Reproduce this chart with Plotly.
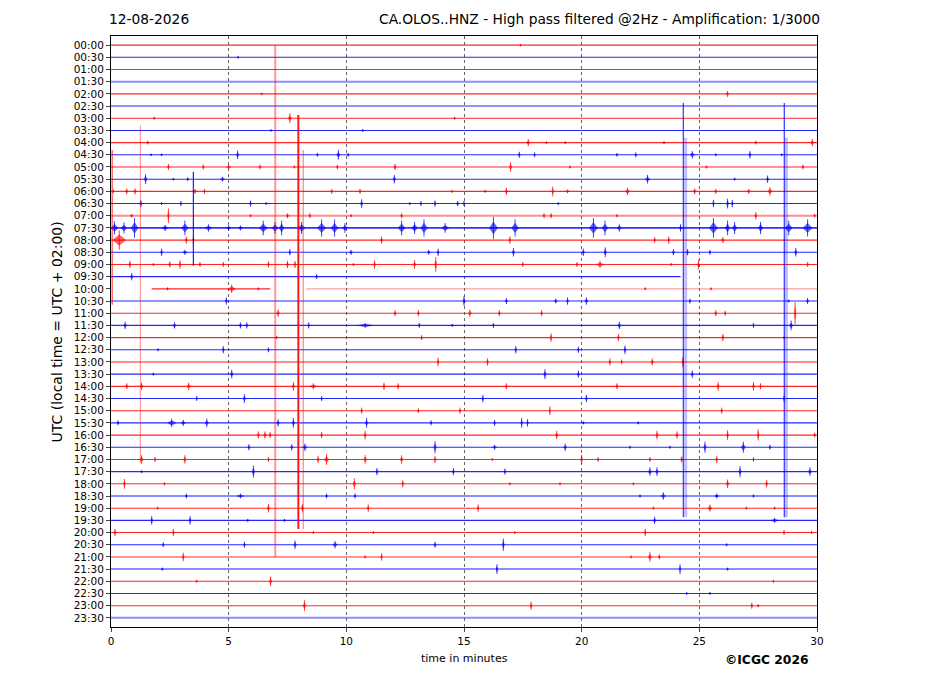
import plotly.graph_objects as go

# helicorder rows: one line per half hour
ROW_LABELS = ["00:00", "00:30", "01:00", "01:30", "02:00", "02:30", "03:00", "03:30",
              "04:00", "04:30", "05:00", "05:30", "06:00", "06:30", "07:00", "07:30",
              "08:00", "08:30", "09:00", "09:30", "10:00", "10:30", "11:00", "11:30",
              "12:00", "12:30", "13:00", "13:30", "14:00", "14:30", "15:00", "15:30",
              "16:00", "16:30", "17:00", "17:30", "18:00", "18:30", "19:00", "19:30",
              "20:00", "20:30", "21:00", "21:30", "22:00", "22:30", "23:00", "23:30"]
X_TICKS = [0, 5, 10, 15, 20, 25, 30]

# recorded stretches of each row (minutes); rows not listed run 0-30
TRACE_SPANS = {19: [(0, 24.2)], 20: [(1.73, 6.76), (8.3, 30)]}

# bursts: (row, minute, half amplitude in rows, duration in minutes)
BURSTS = [
    (0, 17.4, 0.1, 0.1), (1, 5.4, 0.1, 0.1), (4, 6.4, 0.1, 0.1), (4, 26.2, 0.25, 0.12),
    (6, 1.84, 0.12, 0.1), (6, 7.6, 0.4, 0.15), (6, 14.6, 0.12, 0.1),
    (7, 6.8, 0.1, 0.1), (7, 10.7, 0.12, 0.1),
    (8, 1.56, 0.15, 0.12), (8, 17.73, 0.3, 0.15), (8, 18.5, 0.12, 0.1), (8, 19.3, 0.12, 0.1),
    (8, 23.5, 0.12, 0.15), (8, 27.4, 0.15, 0.1), (8, 29.8, 0.3, 0.15),
    (9, 1.7, 0.1, 0.1), (9, 2.15, 0.1, 0.1), (9, 5.38, 0.35, 0.12), (9, 8.77, 0.15, 0.1),
    (9, 9.66, 0.4, 0.15), (9, 10.08, 0.15, 0.1), (9, 17.35, 0.25, 0.1), (9, 18.0, 0.2, 0.1),
    (9, 21.5, 0.15, 0.1), (9, 22.3, 0.2, 0.1), (9, 24.7, 0.3, 0.2), (9, 25.7, 0.12, 0.1),
    (9, 27.15, 0.3, 0.12), (9, 28.5, 0.1, 0.1),
    (10, 2.44, 0.25, 0.1), (10, 3.92, 0.2, 0.1), (10, 5.0, 0.2, 0.2), (10, 6.33, 0.2, 0.12),
    (10, 7.79, 0.12, 0.1), (10, 9.62, 0.2, 0.1), (10, 12.07, 0.25, 0.12), (10, 16.98, 0.4, 0.12),
    (10, 19.5, 0.12, 0.1), (10, 25.3, 0.12, 0.1), (10, 29.4, 0.2, 0.1),
    (11, 1.47, 0.4, 0.15), (11, 2.65, 0.1, 0.1), (11, 3.26, 0.15, 0.1), (11, 4.74, 0.2, 0.2),
    (11, 12.04, 0.35, 0.12), (11, 22.8, 0.35, 0.2), (11, 26.5, 0.12, 0.1), (11, 27.9, 0.3, 0.12),
    (12, 0.1, 0.15, 0.1), (12, 0.67, 0.25, 0.12), (12, 1.02, 0.25, 0.12), (12, 3.57, 0.2, 0.15),
    (12, 3.97, 0.2, 0.1), (12, 9.38, 0.2, 0.12), (12, 10.58, 0.2, 0.12), (12, 14.5, 0.12, 0.1),
    (12, 15.9, 0.12, 0.15), (12, 16.8, 0.3, 0.12), (12, 18.77, 0.4, 0.1), (12, 19.4, 0.15, 0.2),
    (12, 21.95, 0.3, 0.2), (12, 24.8, 0.25, 0.15), (12, 25.7, 0.2, 0.12), (12, 27.1, 0.2, 0.15),
    (12, 28.0, 0.35, 0.2),
    (13, 1.27, 0.3, 0.12), (13, 2.15, 0.12, 0.1), (13, 2.97, 0.2, 0.1), (13, 5.93, 0.25, 0.1),
    (13, 6.59, 0.12, 0.1), (13, 10.65, 0.35, 0.12), (13, 12.7, 0.12, 0.1), (13, 13.17, 0.2, 0.1),
    (13, 13.77, 0.25, 0.1), (13, 14.73, 0.2, 0.15), (13, 15.0, 0.2, 0.1), (13, 19.0, 0.12, 0.1),
    (13, 25.6, 0.3, 0.1), (13, 26.2, 0.4, 0.1), (13, 26.4, 0.3, 0.1),
    (14, 0.88, 0.15, 0.15), (14, 2.44, 0.6, 0.08), (14, 5.93, 0.12, 0.1), (14, 7.5, 0.2, 0.15),
    (14, 8.45, 0.2, 0.12), (14, 10.2, 0.12, 0.1), (14, 12.35, 0.2, 0.12), (14, 18.4, 0.2, 0.12),
    (14, 18.7, 0.2, 0.12), (14, 21.5, 0.12, 0.1), (14, 27.4, 0.3, 0.1), (14, 29.9, 0.15, 0.1),
    (15, 0.15, 0.55, 0.3), (15, 0.55, 0.45, 0.25), (15, 1.0, 0.8, 0.3), (15, 2.3, 0.25, 0.3),
    (15, 3.14, 0.6, 0.3), (15, 4.14, 0.3, 0.3), (15, 5.0, 0.2, 0.2), (15, 5.5, 0.2, 0.2),
    (15, 6.47, 0.6, 0.35), (15, 6.97, 0.5, 0.25), (15, 7.25, 0.6, 0.2), (15, 8.1, 0.5, 0.3),
    (15, 8.95, 0.7, 0.35), (15, 9.5, 0.7, 0.3), (15, 9.94, 0.4, 0.2), (15, 12.35, 0.6, 0.3),
    (15, 12.9, 0.5, 0.25), (15, 13.3, 0.7, 0.3), (15, 14.2, 0.4, 0.3), (15, 16.25, 0.9, 0.35),
    (15, 17.17, 0.7, 0.3), (15, 20.5, 0.8, 0.35), (15, 20.99, 0.6, 0.25), (15, 21.6, 0.3, 0.2),
    (15, 24.2, 0.3, 0.1), (15, 25.6, 0.8, 0.35), (15, 26.2, 0.6, 0.2), (15, 26.5, 0.5, 0.2),
    (15, 27.6, 0.5, 0.2), (15, 28.8, 0.6, 0.3), (15, 29.6, 0.7, 0.4),
    (16, 0.35, 0.8, 0.55), (16, 3.2, 0.3, 0.12), (16, 3.5, 0.3, 0.12), (16, 11.5, 0.3, 0.12),
    (16, 16.95, 0.3, 0.1), (16, 23.1, 0.25, 0.1), (16, 23.7, 0.3, 0.1), (16, 26.0, 0.25, 0.15),
    (17, 2.15, 0.3, 0.12), (17, 3.14, 0.2, 0.2), (17, 7.6, 0.25, 0.1), (17, 10.2, 0.2, 0.15),
    (17, 13.5, 0.2, 0.15), (17, 13.9, 0.3, 0.1), (17, 17.1, 0.35, 0.12), (17, 20.07, 0.3, 0.12),
    (17, 21.0, 0.4, 0.12), (17, 23.9, 0.25, 0.12), (17, 24.5, 0.25, 0.1), (17, 25.45, 0.2, 0.1),
    (17, 29.1, 0.35, 0.12),
    (18, 0.8, 0.3, 0.12), (18, 1.8, 0.12, 0.1), (18, 2.5, 0.25, 0.15), (18, 2.93, 0.35, 0.1),
    (18, 3.78, 0.2, 0.12), (18, 4.77, 0.2, 0.1), (18, 6.69, 0.25, 0.1), (18, 7.5, 0.3, 0.12),
    (18, 7.82, 0.3, 0.1), (18, 10.3, 0.12, 0.1), (18, 11.2, 0.35, 0.1), (18, 12.9, 0.35, 0.12),
    (18, 13.8, 0.6, 0.1), (18, 17.5, 0.2, 0.1), (18, 19.8, 0.2, 0.1), (18, 20.78, 0.3, 0.3),
    (18, 23.8, 0.12, 0.1), (18, 24.96, 0.4, 0.08), (18, 29.6, 0.2, 0.12),
    (19, 0.88, 0.3, 0.12), (19, 8.74, 0.2, 0.1),
    (20, 2.4, 0.12, 0.1), (20, 5.13, 0.35, 0.3), (20, 6.26, 0.12, 0.1), (20, 22.7, 0.12, 0.1),
    (20, 25.5, 0.12, 0.1),
    (21, 4.9, 0.3, 0.1), (21, 15.0, 0.4, 0.1), (21, 16.8, 0.25, 0.12), (21, 18.9, 0.2, 0.15),
    (21, 19.4, 0.3, 0.1), (21, 20.2, 0.3, 0.15), (21, 24.6, 0.2, 0.1), (21, 28.8, 0.12, 0.1),
    (21, 29.6, 0.25, 0.12),
    (22, 7.1, 0.3, 0.15), (22, 12.07, 0.25, 0.1), (22, 13.06, 0.25, 0.1), (22, 15.25, 0.3, 0.15),
    (22, 16.5, 0.25, 0.1), (22, 18.3, 0.25, 0.1), (22, 25.7, 0.25, 0.15), (22, 26.1, 0.2, 0.1),
    (22, 29.07, 0.9, 0.08),
    (23, 0.6, 0.3, 0.15), (23, 2.7, 0.25, 0.15), (23, 5.5, 0.25, 0.12), (23, 5.77, 0.25, 0.12),
    (23, 8.4, 0.25, 0.1), (23, 10.8, 0.2, 0.6), (23, 13.1, 0.2, 0.12), (23, 14.5, 0.12, 0.1),
    (23, 16.25, 0.2, 0.1), (23, 21.6, 0.3, 0.15), (23, 27.3, 0.2, 0.1), (23, 28.9, 0.4, 0.15),
    (24, 7.04, 0.12, 0.1), (24, 13.2, 0.2, 0.1), (24, 18.7, 0.35, 0.1), (24, 21.56, 0.3, 0.1),
    (24, 26.0, 0.3, 0.1), (24, 28.6, 0.12, 0.1),
    (25, 2.0, 0.12, 0.1), (25, 4.77, 0.3, 0.1), (25, 6.69, 0.2, 0.1), (25, 17.2, 0.3, 0.1),
    (25, 19.86, 0.25, 0.1), (25, 21.84, 0.35, 0.1),
    (26, 13.9, 0.35, 0.08), (26, 16.0, 0.3, 0.1), (26, 21.2, 0.3, 0.1), (26, 21.7, 0.2, 0.08),
    (26, 23.0, 0.3, 0.15), (26, 24.3, 0.4, 0.1),
    (27, 1.8, 0.12, 0.1), (27, 5.13, 0.35, 0.12), (27, 18.44, 0.4, 0.12), (27, 19.86, 0.3, 0.1),
    (27, 24.7, 0.3, 0.12),
    (28, 0.67, 0.25, 0.12), (28, 1.3, 0.3, 0.15), (28, 3.3, 0.3, 0.15), (28, 7.75, 0.35, 0.1),
    (28, 8.6, 0.25, 0.3), (28, 11.6, 0.3, 0.1), (28, 12.2, 0.25, 0.1), (28, 16.8, 0.25, 0.1),
    (28, 21.5, 0.25, 0.1), (28, 25.8, 0.35, 0.1), (28, 27.3, 0.35, 0.1), (28, 27.6, 0.25, 0.1),
    (29, 3.64, 0.2, 0.12), (29, 5.67, 0.35, 0.12), (29, 8.95, 0.2, 0.1), (29, 15.8, 0.3, 0.1),
    (29, 20.2, 0.3, 0.1), (29, 28.6, 0.25, 0.1),
    (30, 10.65, 0.25, 0.1), (30, 13.06, 0.2, 0.1), (30, 14.83, 0.25, 0.1), (30, 18.65, 0.35, 0.08),
    (30, 25.95, 0.25, 0.1),
    (31, 0.3, 0.2, 0.1), (31, 2.58, 0.35, 0.35), (31, 3.07, 0.25, 0.2), (31, 4.07, 0.35, 0.15),
    (31, 7.1, 0.3, 0.12), (31, 7.75, 0.4, 0.12), (31, 10.86, 0.4, 0.12), (31, 13.6, 0.2, 0.1),
    (31, 16.3, 0.25, 0.1), (31, 17.45, 0.4, 0.08), (31, 17.7, 0.3, 0.08), (31, 20.07, 0.12, 0.1),
    (31, 22.4, 0.12, 0.1),
    (32, 6.26, 0.3, 0.1), (32, 6.54, 0.3, 0.12), (32, 6.76, 0.25, 0.1), (32, 8.95, 0.25, 0.1),
    (32, 10.8, 0.35, 0.1), (32, 18.94, 0.35, 0.12), (32, 23.2, 0.35, 0.12), (32, 24.05, 0.3, 0.1),
    (32, 26.2, 0.4, 0.1), (32, 27.5, 0.45, 0.08), (32, 29.9, 0.2, 0.1),
    (33, 5.86, 0.25, 0.1), (33, 7.68, 0.25, 0.12), (33, 8.24, 0.3, 0.2), (33, 13.77, 0.5, 0.12),
    (33, 16.3, 0.2, 0.2), (33, 19.3, 0.3, 0.15), (33, 22.05, 0.12, 0.1), (33, 23.75, 0.12, 0.1),
    (33, 25.24, 0.45, 0.12), (33, 26.87, 0.45, 0.2), (33, 28.0, 0.2, 0.1),
    (34, 1.3, 0.35, 0.15), (34, 1.87, 0.2, 0.1), (34, 3.14, 0.35, 0.12), (34, 6.69, 0.2, 0.1),
    (34, 8.8, 0.3, 0.12), (34, 9.16, 0.45, 0.2), (34, 10.8, 0.35, 0.15), (34, 12.35, 0.35, 0.15),
    (34, 13.77, 0.3, 0.1), (34, 16.2, 0.12, 0.1), (34, 20.0, 0.4, 0.1), (34, 20.7, 0.2, 0.1),
    (34, 22.9, 0.2, 0.12), (34, 24.25, 0.25, 0.15), (34, 25.74, 0.3, 0.1), (34, 27.3, 0.2, 0.1),
    (35, 1.3, 0.12, 0.1), (35, 6.05, 0.5, 0.12), (35, 11.3, 0.3, 0.1), (35, 14.55, 0.3, 0.1),
    (35, 16.74, 0.25, 0.1), (35, 22.9, 0.35, 0.15), (35, 23.2, 0.35, 0.12), (35, 26.73, 0.45, 0.1),
    (35, 29.7, 0.35, 0.15),
    (36, 0.57, 0.4, 0.1), (36, 2.27, 0.12, 0.1), (36, 10.34, 0.45, 0.12), (36, 12.4, 0.3, 0.1),
    (36, 16.95, 0.12, 0.1), (36, 19.08, 0.12, 0.1), (36, 22.2, 0.12, 0.1), (36, 26.2, 0.35, 0.15),
    (36, 27.86, 0.3, 0.12),
    (37, 3.2, 0.2, 0.1), (37, 5.5, 0.2, 0.3), (37, 9.16, 0.2, 0.1), (37, 10.37, 0.2, 0.1),
    (37, 22.48, 0.12, 0.1), (37, 23.47, 0.3, 0.2), (37, 25.74, 0.2, 0.2), (37, 27.3, 0.12, 0.1),
    (38, 1.98, 0.12, 0.1), (38, 6.69, 0.35, 0.12), (38, 8.13, 0.35, 0.1), (38, 10.93, 0.3, 0.1),
    (38, 15.6, 0.3, 0.08), (38, 23.05, 0.12, 0.1), (38, 25.45, 0.3, 0.2), (38, 27.0, 0.12, 0.1),
    (38, 28.2, 0.12, 0.1),
    (39, 1.73, 0.35, 0.1), (39, 3.36, 0.35, 0.1), (39, 5.81, 0.12, 0.1), (39, 7.37, 0.12, 0.1),
    (39, 23.1, 0.3, 0.12), (39, 28.2, 0.2, 0.3),
    (40, 0.17, 0.3, 0.12), (40, 2.65, 0.3, 0.1), (40, 8.6, 0.12, 0.1), (40, 11.15, 0.12, 0.1),
    (40, 17.16, 0.12, 0.1), (40, 22.7, 0.3, 0.1), (40, 28.6, 0.2, 0.1), (40, 29.77, 0.12, 0.1),
    (41, 2.22, 0.2, 0.1), (41, 5.67, 0.25, 0.1), (41, 7.82, 0.35, 0.12), (41, 9.52, 0.3, 0.2),
    (41, 13.77, 0.25, 0.12), (41, 16.67, 0.5, 0.1), (41, 26.16, 0.12, 0.1),
    (42, 3.07, 0.35, 0.1), (42, 10.8, 0.12, 0.1), (42, 11.5, 0.3, 0.08), (42, 22.1, 0.12, 0.1),
    (42, 22.9, 0.4, 0.15), (42, 23.3, 0.2, 0.1),
    (43, 2.18, 0.12, 0.1), (43, 16.4, 0.4, 0.08), (43, 24.18, 0.4, 0.08), (43, 26.2, 0.12, 0.1),
    (44, 3.64, 0.12, 0.1), (44, 6.78, 0.4, 0.12), (44, 28.15, 0.12, 0.1),
    (45, 24.46, 0.12, 0.1), (45, 25.45, 0.12, 0.1),
    (46, 8.22, 0.45, 0.12), (46, 17.85, 0.35, 0.1), (46, 27.23, 0.25, 0.1), (46, 27.5, 0.12, 0.1),
]

# long glitches crossing many rows: minute, top row, bottom row
SPIKE_MIN = [0.05, 1.25, 3.5, 6.98, 7.96, 8.17, 24.32, 24.42, 28.61, 28.7]
SPIKE_TOP = [8.6, 6.6, 10.4, 0.0, 5.73, 8.6, 4.74, 7.6, 4.74, 7.6]
SPIKE_BOTTOM = [21.3, 34.3, 18.1, 42.0, 39.7, 39.7, 38.75, 38.75, 38.75, 38.75]
SPIKE_COLOR = ["red", "red", "blue", "red", "red", "red", "blue", "blue", "blue", "blue"]

RED = (255, 0, 0)
BLUE = (0, 0, 255)
NOISY_ROWS = [3, 14, 26, 37, 43, 47]
BUSY_ROWS = [15]
SPIKE_ALPHA = [0.7, 0.4, 0.9, 0.4, 0.9, 0.4, 0.8, 0.25, 0.8, 0.25]
SPIKE_WIDTH = [1.2, 1.2, 1.2, 2.0, 2.0, 1.5, 1.2, 3.0, 1.2, 3.0]


def rgba(c, a):
    return "rgba(%d,%d,%d,%.2f)" % (c[0], c[1], c[2], a)


fig = go.Figure()

# baselines
for r in range(len(ROW_LABELS)):
    col = RED if r % 2 == 0 else BLUE
    spans = TRACE_SPANS.get(r, [(0, 30)])
    for k, (a, b) in enumerate(spans):
        if r == 20 and k == 1:
            alpha, w = 0.28, 1.8
        elif r in NOISY_ROWS:
            alpha, w = 0.45, 2.0
        elif r in BUSY_ROWS:
            alpha, w = 0.8, 1.8
        else:
            alpha, w = 0.85, 1.1
        fig.add_trace(go.Scatter(
            x=[a, b], y=[r, r], mode="lines",
            line=dict(color=rgba(col, alpha), width=w),
            hoverinfo="skip", showlegend=False))

# bursts: a spindle plus a centre stroke
shape = {RED: ([], []), BLUE: ([], [])}
stroke = {RED: ([], []), BLUE: ([], [])}
for r, t, amp, dur in BURSTS:
    col = RED if r % 2 == 0 else BLUE
    xs, ys = shape[col]
    xs += [t - dur / 2, t, t + dur / 2, t, t - dur / 2, None]
    ys += [r, r - amp * 0.55, r, r + amp * 0.55, r, None]
    xs, ys = stroke[col]
    xs += [t, t, None]
    ys += [r - amp, r + amp, None]

for col in (RED, BLUE):
    fig.add_trace(go.Scatter(x=shape[col][0], y=shape[col][1], mode="lines",
                             fill="toself", fillcolor=rgba(col, 0.6),
                             line=dict(color=rgba(col, 0.6), width=0.5),
                             hoverinfo="skip", showlegend=False))
    fig.add_trace(go.Scatter(x=stroke[col][0], y=stroke[col][1], mode="lines",
                             line=dict(color=rgba(col, 0.85), width=0.9),
                             hoverinfo="skip", showlegend=False))

for i in range(len(SPIKE_MIN)):
    col = RED if SPIKE_COLOR[i] == "red" else BLUE
    fig.add_trace(go.Scatter(x=[SPIKE_MIN[i], SPIKE_MIN[i]], y=[SPIKE_TOP[i], SPIKE_BOTTOM[i]],
                             mode="lines", line=dict(color=rgba(col, SPIKE_ALPHA[i]), width=SPIKE_WIDTH[i]),
                             hoverinfo="skip", showlegend=False))

font = "DejaVu Sans, Arial, sans-serif"
fig.update_layout(
    width=927, height=696,
    margin=dict(l=103, r=118, t=28, b=77),
    plot_bgcolor="white", paper_bgcolor="white",
    font=dict(family=font, color="black", size=11),
    xaxis=dict(range=[0, 30], tickvals=X_TICKS, ticks="outside", ticklen=4,
               showline=True, linecolor="black", linewidth=1, mirror=True,
               showgrid=True, gridcolor="#666666", gridwidth=0.6, griddash="dot",
               zeroline=False, tickfont=dict(size=10.5)),
    yaxis=dict(range=[47.75, -0.75], tickvals=list(range(len(ROW_LABELS))), ticktext=ROW_LABELS,
               ticks="outside", ticklen=4, showline=True, linecolor="black", linewidth=1,
               mirror=True, showgrid=False, zeroline=False, tickfont=dict(size=10.5)),
    annotations=[
        dict(text="12-08-2026", xref="paper", yref="paper", x=-0.006, y=1, yshift=7,
             xanchor="left", yanchor="bottom", showarrow=False, font=dict(size=13.8)),
        dict(text="CA.OLOS..HNZ - High pass filtered @2Hz - Amplification: 1/3000",
             xref="paper", yref="paper", x=1.007, y=1, yshift=7, xanchor="right",
             yanchor="bottom", showarrow=False, font=dict(size=13.8)),
        dict(text="UTC (local time = UTC + 02:00)", xref="paper", yref="paper",
             x=-0.0765, y=0.5, textangle=-90, xanchor="center", yanchor="middle",
             showarrow=False, font=dict(size=14)),
        dict(text="time in minutes", xref="paper", yref="paper", x=0.5, y=0, yshift=-23,
             xanchor="center", yanchor="top", showarrow=False, font=dict(size=11)),
        dict(text="<b>©ICGC 2026</b>", xref="paper", yref="paper", x=0.9915, y=0, yshift=-24,
             xanchor="right", yanchor="top", showarrow=False, font=dict(size=12.3)),
    ],
)

fig.write_html("out.html")
